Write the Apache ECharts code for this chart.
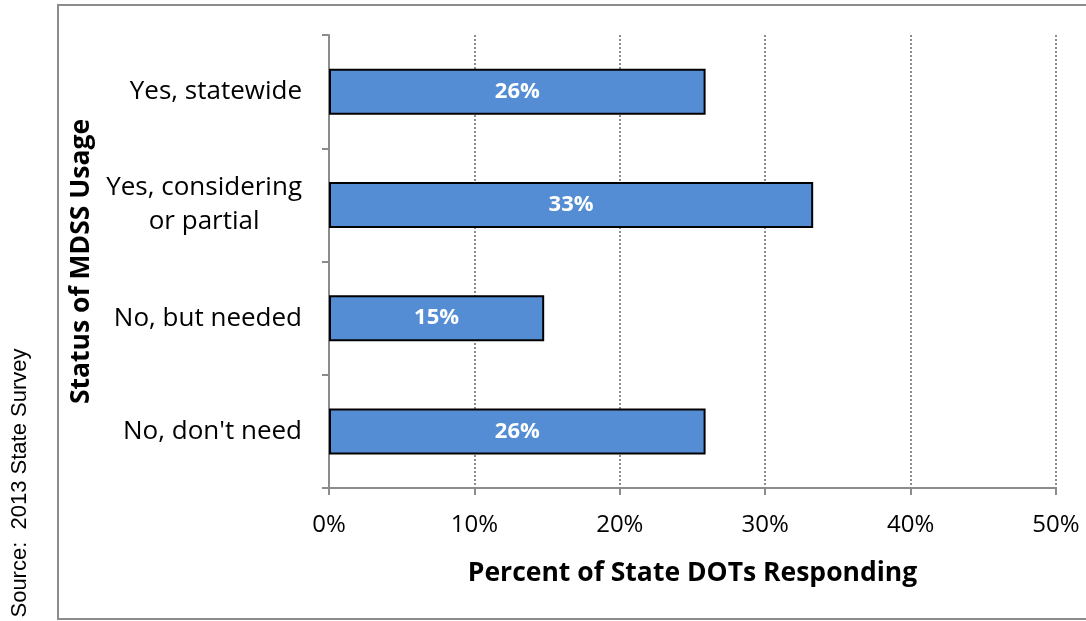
<!DOCTYPE html>
<html>
<head>
<meta charset="utf-8">
<script src="https://cdn.jsdelivr.net/npm/echarts@6/dist/echarts.min.js"></script>
<style>
  html, body { margin: 0; padding: 0; background: #fff; }
  #chart { width: 1086px; height: 621px; }
</style>
</head>
<body>
<div id="chart"></div>
<script>
// Survey responses (share of state DOTs answering each option)
const categories = ['Yes, statewide', 'Yes, considering\nor partial', 'No, but needed', "No, don't need"];
const shares = [25.9, 33.3, 14.8, 25.9];
const xTicks = [0, 10, 20, 30, 40, 50];

const FONT = '"Open Sans", Lato, sans-serif';
const chart = echarts.init(document.getElementById('chart'), null, { renderer: 'canvas' });

chart.setOption({
  animation: false,
  backgroundColor: '#ffffff',
  grid: { left: 329, right: 30, top: 35, bottom: 133, containLabel: false },
  xAxis: {
    type: 'value',
    min: xTicks[0],
    max: xTicks[xTicks.length - 1],
    interval: xTicks[1] - xTicks[0],
    name: 'Percent of State DOTs Responding',
    nameLocation: 'middle',
    nameGap: 72,
    nameTextStyle: { fontFamily: FONT, fontSize: 26.5, fontWeight: 'bold', color: '#000' },
    axisLine: { show: true, lineStyle: { color: '#8c8c8c', width: 2 } },
    axisTick: { show: true, length: 7, lineStyle: { color: '#8c8c8c', width: 2 } },
    axisLabel: {
      margin: 25,
      fontFamily: FONT, fontSize: 24, color: '#000',
      formatter: v => v + '%'
    },
    splitLine: { show: true, lineStyle: { color: '#8c8c8c', width: 2, type: [2, 2] } }
  },
  yAxis: {
    type: 'category',
    inverse: true,
    data: categories,
    name: 'Status of MDSS Usage',
    nameLocation: 'middle',
    nameRotate: 90,
    nameGap: 230,
    nameTextStyle: { fontFamily: FONT, fontSize: 26.5, fontWeight: 'bold', color: '#000' },
    axisLine: { show: true, lineStyle: { color: '#8c8c8c', width: 2 } },
    axisTick: { show: true, length: 7, lineStyle: { color: '#8c8c8c', width: 2 } },
    axisLabel: {
      margin: 27,
      fontFamily: FONT, fontSize: 26, color: '#000', lineHeight: 34,
      formatter: v => v.indexOf('\n') >= 0 ? v.split('\n').map(s => '{c|' + s + '}').join('\n') : v,
      rich: { c: { align: 'center', fontFamily: FONT, fontSize: 26, color: '#000', lineHeight: 34 } }
    },
    splitLine: { show: false }
  },
  series: [{
    type: 'bar',
    data: shares,
    barWidth: 46,
    itemStyle: { color: '#548dd4', borderColor: '#000', borderWidth: 2 },
    label: {
      show: true,
      position: 'inside',
      fontFamily: FONT, fontSize: 22, fontWeight: 'bold', color: '#fff',
      formatter: p => Math.round(p.value) + '%'
    }
  }],
  graphic: [
    {
      type: 'rect',
      shape: { x: 58, y: 5, width: 1100, height: 614 },
      style: { fill: 'none', stroke: '#8c8c8c', lineWidth: 2 },
      silent: true
    },
    {
      type: 'text',
      x: 20, y: 483,
      rotation: Math.PI / 2,
      style: {
        text: 'Source:  2013 State Survey',
        fontFamily: '"Liberation Sans", Arial, sans-serif',
        fontSize: 22, fill: '#000',
        align: 'center', verticalAlign: 'middle'
      }
    }
  ]
});
</script>
</body>
</html>
